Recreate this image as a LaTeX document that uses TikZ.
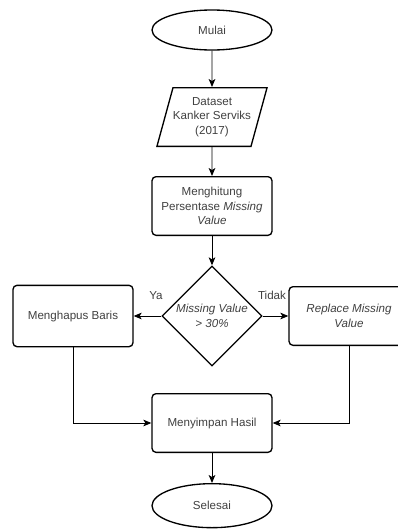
\documentclass[tikz,border=0pt]{standalone}
\usepackage{fontspec}
\setmainfont{Liberation Sans}
\usetikzlibrary{shapes.geometric, positioning, arrows.meta}

\tikzset{
  txt/.style={font=\fontsize{8.7}{11}\selectfont, text=black!75, align=center},
  terminal/.style={txt, draw, ellipse, line width=1pt, minimum width=90pt, minimum height=30pt, inner sep=0pt},
  proses/.style={txt, draw, rectangle, rounded corners=3pt, line width=1pt, minimum width=90pt, minimum height=44pt, inner sep=1pt},
  dataio/.style={txt, draw, trapezium, trapezium left angle=68, trapezium right angle=112, trapezium stretches body, line width=1pt, minimum width=62pt, minimum height=44pt, inner sep=0pt},
  keputusan/.style={txt, draw, diamond, aspect=1, line width=1pt, minimum width=75pt, minimum height=75pt, inner sep=0pt},
  arr/.style={-{Stealth[length=6pt,width=5pt,inset=1.5pt]}, line width=0.7pt},
  lbl/.style={font=\fontsize{8.7}{11}\selectfont, text=black!75}
}

\begin{document}
\begin{tikzpicture}[node distance=60pt, on grid]
  \useasboundingbox (-159pt,-374.25pt) rectangle (139.5pt,22.5pt);
  \clip (-159pt,-374.25pt) rectangle (139.5pt,22.5pt);

  \node[terminal] (mulai) at (0,0) {Mulai};
  \node[dataio] (data) [below=65.25pt of mulai] {Dataset\\Kanker Serviks\\(2017)};
  \node[proses] (hitung) [below=66.75pt of data] {Menghitung\\Persentase \textit{Missing}\\\textit{Value}};
  \node[keputusan] (cek) [below=82.5pt of hitung] {\textit{Missing Value}\\\textit{> 30\%}};
  \node[proses, minimum height=46pt] (hapus) [left=104.25pt of cek] {Menghapus Baris};
  \node[proses, minimum height=44pt] (ganti) [right=102.75pt of cek] {\textit{Replace Missing}\\\textit{Value}};
  \node[proses] (simpan) [below=80.25pt of cek] {Menyimpan Hasil};
  \node[terminal, minimum height=33pt] (selesai) [below=62pt of simpan] {Selesai};

  \node[lbl] (ya) at ([shift={(-4pt,15.5pt)}]cek.west) {Ya};
  \node[lbl] (tidak) at ([shift={(7pt,15.5pt)}]cek.east) {Tidak};

  \draw[arr] (mulai) -- (data);
  \draw[arr] (data) -- (hitung);
  \draw[arr] (hitung) -- (cek);
  \draw[arr] (cek.west) -- (hapus);
  \draw[arr] (cek.east) -- (ganti);
  \draw[arr] (hapus.south) |- (simpan.west);
  \draw[arr] (ganti.south) |- (simpan.east);
  \draw[arr] (simpan) -- (selesai);
\end{tikzpicture}
\end{document}
